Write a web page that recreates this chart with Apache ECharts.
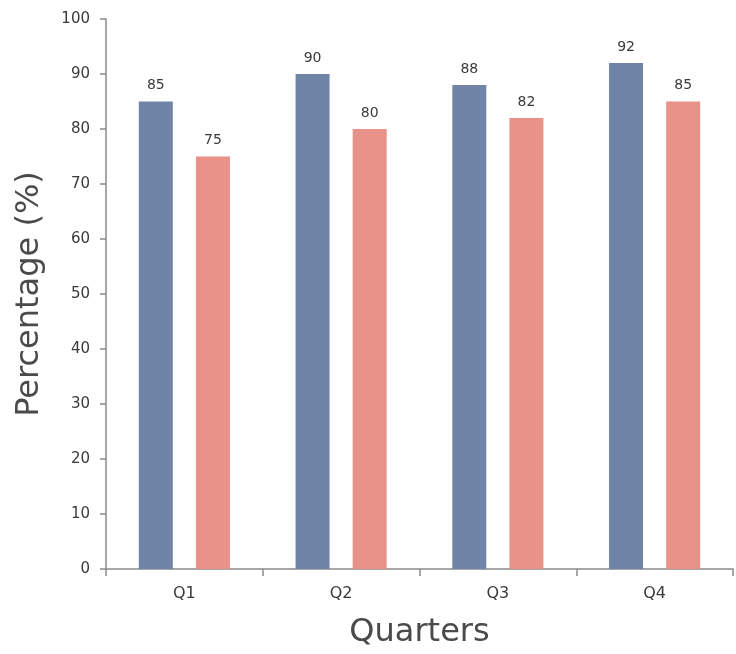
<!DOCTYPE html>
<html>
<head>
<meta charset="utf-8">
<style>
  html, body { margin: 0; padding: 0; background: #fff; }
  #chart { width: 736px; height: 654px; }
</style>
<script src="https://cdn.jsdelivr.net/npm/echarts@6/dist/echarts.min.js"></script>
</head>
<body>
<div id="chart"></div>
<script>
// Quarterly percentages for two series
const quarters = ['Q1', 'Q2', 'Q3', 'Q4'];
const seriesA = [85, 90, 88, 92];
const seriesB = [75, 80, 82, 85];
const yTicks = { min: 0, max: 100, interval: 10 };

const FONT = '"DejaVu Sans", sans-serif';
const axisGray = '#8a8a8a';
const textColor = '#3a3a3a';
const titleColor = '#4a4a4a';

const chart = echarts.init(document.getElementById('chart'));

const labelStyle = {
  show: true,
  position: 'top',
  distance: 9,
  color: textColor,
  fontSize: 14,
  fontFamily: FONT
};

chart.setOption({
  backgroundColor: '#fff',
  animation: false,
  grid: { left: 106, right: 3, top: 19, bottom: 82 },
  xAxis: {
    type: 'category',
    data: quarters,
    name: 'Quarters',
    nameLocation: 'middle',
    nameGap: 48,
    nameTextStyle: { fontSize: 32, color: titleColor, fontFamily: FONT },
    axisLine: { lineStyle: { color: axisGray, width: 1.5 } },
    axisTick: { show: true, length: 7, lineStyle: { color: axisGray, width: 1.5 } },
    axisLabel: { margin: 17, fontSize: 16, color: textColor, fontFamily: FONT }
  },
  yAxis: {
    type: 'value',
    min: yTicks.min,
    max: yTicks.max,
    interval: yTicks.interval,
    name: 'Percentage (%)',
    nameLocation: 'middle',
    nameGap: 60,
    nameTextStyle: { fontSize: 32, color: titleColor, fontFamily: FONT },
    axisLine: { show: true, lineStyle: { color: axisGray, width: 1.5 } },
    axisTick: { show: true, length: 6, lineStyle: { color: axisGray, width: 1.5 } },
    axisLabel: { margin: 16, fontSize: 15, color: textColor, fontFamily: FONT },
    splitLine: { show: false }
  },
  series: [
    {
      type: 'bar',
      data: seriesA,
      barWidth: 34,
      barGap: '68%',
      itemStyle: { color: '#6f84a6' },
      label: labelStyle
    },
    {
      type: 'bar',
      data: seriesB,
      barWidth: 34,
      itemStyle: { color: '#e8928a' },
      label: labelStyle
    }
  ]
});
</script>
</body>
</html>
